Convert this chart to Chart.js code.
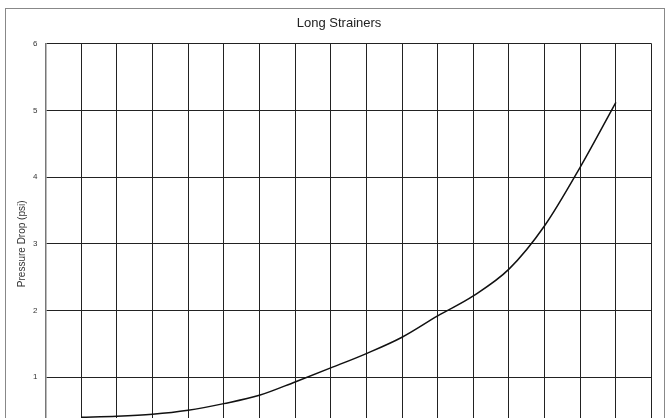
<!DOCTYPE html>
<html>
<head>
    <title>Long Strainers</title>
    <meta charset="UTF-8">
    <script src="https://cdn.jsdelivr.net/npm/chart.js"></script>

    <style>

        body {
            margin: 0;
            background: white;
            overflow: hidden;
            font-family: "Liberation Sans", Arial, sans-serif;
        }

        .chart-frame {
            position: absolute;
            left: 5px;
            top: 8px;
            width: 658px;
            height: 480px;
            border: 1px solid #888;
        }
    </style>
</head>

<body>
<div class="chart-frame">
    <canvas id="strainerChart"></canvas>
</div>

<script>
    // flow axis (bottom of the chart is cut off in the picture)
    const flowTicks = [0, 1, 2, 3, 4, 5, 6, 7, 8, 9, 10, 11, 12, 13, 14, 15, 16, 17];
    const flowPoints = [1, 2, 3, 4, 5, 6, 7, 8, 9, 10, 11, 12, 13, 14, 15, 16];
    const pressureDrop = [0.40, 0.415, 0.445, 0.505, 0.605, 0.73, 0.93, 1.14, 1.355, 1.6, 1.92, 2.22, 2.62, 3.27, 4.15, 5.12];
    const pressureTicks = [0, 1, 2, 3, 4, 5, 6];

    const points = flowPoints.map((x, i) => ({ x: x, y: pressureDrop[i] }));

    const ctx = document.getElementById('strainerChart').getContext('2d');
    new Chart(ctx, {
        type: 'line',
        data: {
            datasets: [{
                label: 'Long Strainers',
                data: points,
                borderColor: '#111',
                borderWidth: 1.5,
                pointRadius: 0,
                fill: false,
                cubicInterpolationMode: 'monotone'
            }]
        },
        options: {
            responsive: true,
            maintainAspectRatio: false,
            animation: false,
            layout: {
                padding: { left: 19.5, right: 11.4, top: 0, bottom: 5 }
            },
            plugins: {
                legend: { display: false },
                tooltip: { enabled: false },
                title: {
                    display: true,
                    text: 'Long Strainers',
                    color: '#222',
                    font: { family: '"Liberation Sans", Arial, sans-serif', size: 13, weight: 'normal' },
                    padding: { top: 7, bottom: 12 }
                }
            },
            scales: {
                x: {
                    type: 'linear',
                    min: flowTicks[0],
                    max: flowTicks[flowTicks.length - 1],
                    afterBuildTicks: axis => { axis.ticks = flowTicks.map(v => ({ value: v })); },
                    afterFit: axis => { axis.height = 40; },
                    grid: { color: '#222', lineWidth: 1, drawTicks: false },
                    border: { color: '#777', width: 1 },
                    ticks: {
                        color: '#333',
                        padding: 8,
                        font: { family: '"Liberation Sans", Arial, sans-serif', size: 8 }
                    },
                    title: {
                        display: true,
                        text: 'Flow (gpm)',
                        color: '#333',
                        font: { family: '"Liberation Sans", Arial, sans-serif', size: 10 }
                    }
                },
                y: {
                    min: pressureTicks[0],
                    max: pressureTicks[pressureTicks.length - 1],
                    afterBuildTicks: axis => { axis.ticks = pressureTicks.map(v => ({ value: v })); },
                    afterFit: axis => { axis.width = 20; },
                    grid: { color: '#222', lineWidth: 1, drawTicks: false },
                    border: { color: '#777', width: 1.5 },
                    ticks: {
                        color: '#333',
                        padding: 8,
                        font: { family: '"Liberation Sans", Arial, sans-serif', size: 8 }
                    },
                    title: {
                        display: true,
                        text: 'Pressure Drop (psi)',
                        color: '#333',
                        padding: { top: -9.5, bottom: 0 },
                        font: { family: '"Liberation Sans", Arial, sans-serif', size: 10 }
                    }
                }
            }
        }
    });
</script>

</body>
</html>
